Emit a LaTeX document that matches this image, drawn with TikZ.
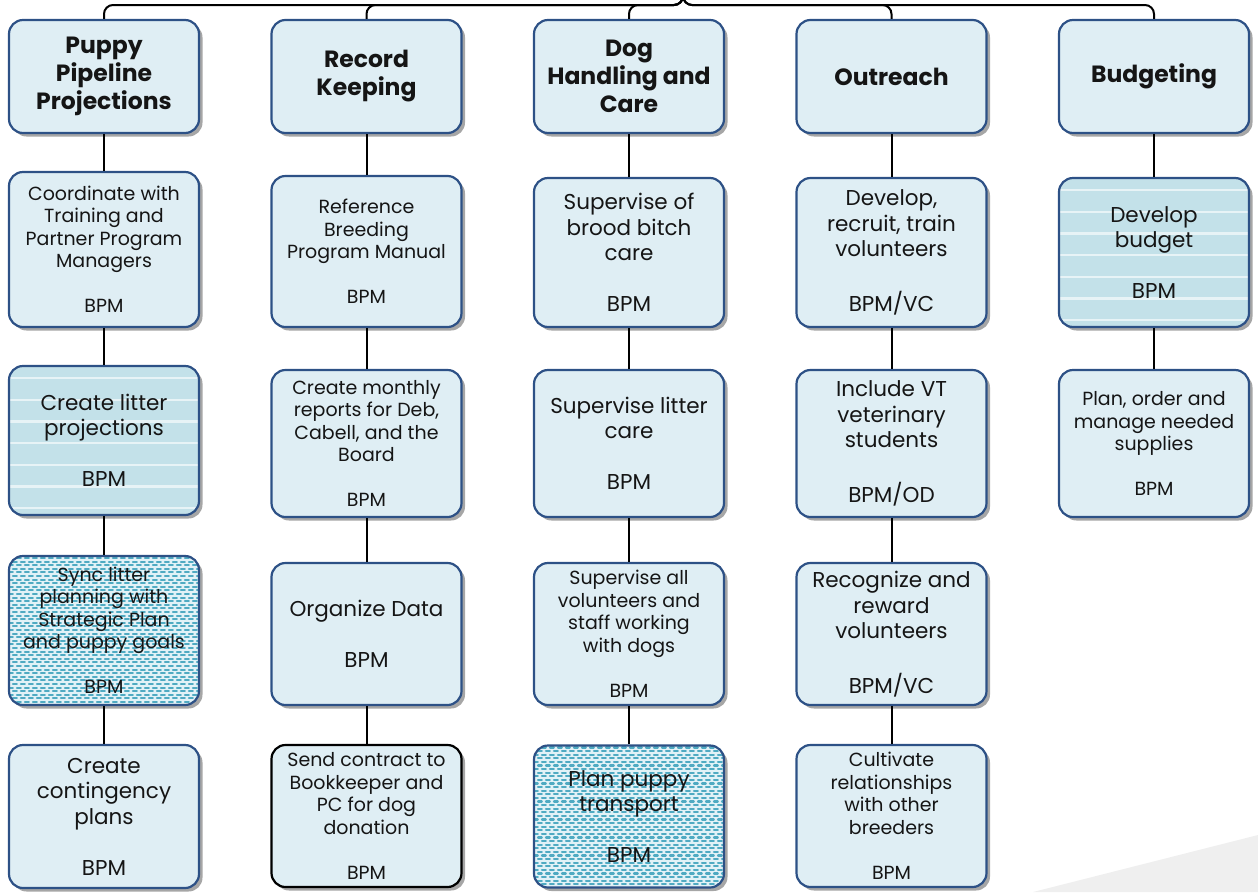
\documentclass[tikz,border=0pt]{standalone}
\usepackage{fontspec}
\setmainfont{Poppins}
\usetikzlibrary{shadows}

\definecolor{cardfill}{HTML}{DFEEF4}
\definecolor{cardedge}{HTML}{2D5186}
\definecolor{stripefill}{HTML}{C3E1E9}
\definecolor{dotfill}{HTML}{E2F2F7}
\definecolor{dotink}{HTML}{4FAAC2}
\definecolor{inkblack}{HTML}{151515}
\definecolor{cornergray}{HTML}{EFEFEF}

\tikzset{
  card/.style={rectangle, rounded corners=14pt, minimum width=190pt,
    draw=cardedge, line width=2.2pt, fill=cardfill, align=center,
    text=inkblack, inner sep=2pt,
    drop shadow={shadow xshift=3.5pt, shadow yshift=-3.5pt, fill=black, opacity=0.35}},
  head/.style={card, minimum height=113pt, font=\fontsize{23.5}{28}\selectfont\bfseries},
  big/.style={card, font=\fontsize{21.5}{25.5}\selectfont},
  small/.style={card, font=\fontsize{19}{22.5}\selectfont},
  striped/.style={fill=stripefill,
    path picture={\foreach \k in {0,...,8}
      \draw[white, opacity=0.6, line width=2.2pt]
        ([yshift={-(\k*21.7+12)*1pt}]path picture bounding box.north west) --
        ([yshift={-(\k*21.7+12)*1pt}]path picture bounding box.north east);}},
  speckled/.style={fill=dotfill,
    path picture={\foreach \k [evaluate=\k as \ph using {mod(\k,2)*4}] in {0,...,42}
      \draw[dotink, line width=2.1pt, line cap=round, dash pattern=on 3.8pt off 4.2pt, dash phase=\ph pt]
        ([yshift={-(\k*3.6+2)*1pt}]path picture bounding box.north west) --
        ([yshift={-(\k*3.6+2)*1pt}]path picture bounding box.north east);}},
  link/.style={draw=black, line width=2pt}
}

\begin{document}
\begin{tikzpicture}[x=1pt, y=-1pt]
\useasboundingbox (0,0) rectangle (1258,892);
\fill[cornergray] (1033,892) -- (1258,835) -- (1258,892) -- cycle;

% column headers
\node[head] (h1) at (104,76.5)   {Puppy\\Pipeline\\Projections};
\node[head] (h2) at (366.5,76.5) {Record\\Keeping};
\node[head] (h3) at (629,76.5)   {Dog\\Handling and\\Care};
\node[head] (h4) at (891.5,76.5) {Outreach};
\node[head] (h5) at (1154,76.5)  {Budgeting};

% Puppy Pipeline Projections
\node[small, minimum height=155pt] (a1) at (104,249.5)
  {Coordinate with\\Training and\\Partner Program\\Managers\\\strut\\BPM};
\node[big, striped, minimum height=149pt] (a2) at (104,440.5)
  {Create litter\\projections\\\strut\\BPM};
\node[small, speckled, minimum height=149pt] (a3) at (104,630.5)
  {Sync litter\\planning with\\Strategic Plan\\and puppy goals\\\strut\\BPM};
\node[big, minimum height=143pt] (a4) at (104,816.5)
  {Create\\contingency\\plans\\\strut\\BPM};

% Record Keeping
\node[small, minimum height=151pt] (b1) at (366.5,251.5)
  {Reference\\Breeding\\Program Manual\\\strut\\BPM};
\node[small, minimum height=147pt] (b2) at (366.5,443.5)
  {Create monthly\\reports for Deb,\\Cabell, and the\\Board\\\strut\\BPM};
\node[big, minimum height=142pt] (b3) at (366.5,634)
  {Organize Data\\\strut\\BPM};
\node[small, draw=black, minimum height=142pt] (b4) at (366.5,816)
  {Send contract to\\Bookkeeper and\\PC for dog\\donation\\\strut\\BPM};

% Dog Handling and Care
\node[big, minimum height=149pt] (c1) at (629,252.5)
  {Supervise of\\brood bitch\\care\\\strut\\BPM};
\node[big, minimum height=147pt] (c2) at (629,443.5)
  {Supervise litter\\care\\\strut\\BPM};
\node[small, minimum height=142pt] (c3) at (629,634)
  {Supervise all\\volunteers and\\staff working\\with dogs\\\strut\\BPM};
\node[big, speckled, minimum height=142pt] (c4) at (629,816.5)
  {Plan puppy\\transport\\\strut\\BPM};

% Outreach
\node[big, minimum height=149pt] (d1) at (891.5,252.5)
  {Develop,\\recruit, train\\volunteers\\\strut\\BPM/VC};
\node[big, minimum height=147pt] (d2) at (891.5,443.5)
  {Include VT\\veterinary\\students\\\strut\\BPM/OD};
\node[big, minimum height=142pt] (d3) at (891.5,634)
  {Recognize and\\reward\\volunteers\\\strut\\BPM/VC};
\node[small, minimum height=142pt] (d4) at (891.5,816)
  {Cultivate\\relationships\\with other\\breeders\\\strut\\BPM};

% Budgeting
\node[big, striped, minimum height=149pt] (e1) at (1154,252.5)
  {Develop\\budget\\\strut\\BPM};
\node[small, minimum height=147pt] (e2) at (1154,443.5)
  {Plan, order and\\manage needed\\supplies\\\strut\\BPM};

% bracket from the parent above down to each header
\coordinate (root) at (683,-30);
\foreach \h in {h1,h2,h3,h4,h5}
  \draw[link, rounded corners=9pt] (root) -- (683,5) -| (\h);

% vertical chains
\draw[link] (h1) -- (a1); \draw[link] (a1) -- (a2); \draw[link] (a2) -- (a3); \draw[link] (a3) -- (a4);
\draw[link] (h2) -- (b1); \draw[link] (b1) -- (b2); \draw[link] (b2) -- (b3); \draw[link] (b3) -- (b4);
\draw[link] (h3) -- (c1); \draw[link] (c1) -- (c2); \draw[link] (c2) -- (c3); \draw[link] (c3) -- (c4);
\draw[link] (h4) -- (d1); \draw[link] (d1) -- (d2); \draw[link] (d2) -- (d3); \draw[link] (d3) -- (d4);
\draw[link] (h5) -- (e1); \draw[link] (e1) -- (e2);
\end{tikzpicture}
\end{document}
